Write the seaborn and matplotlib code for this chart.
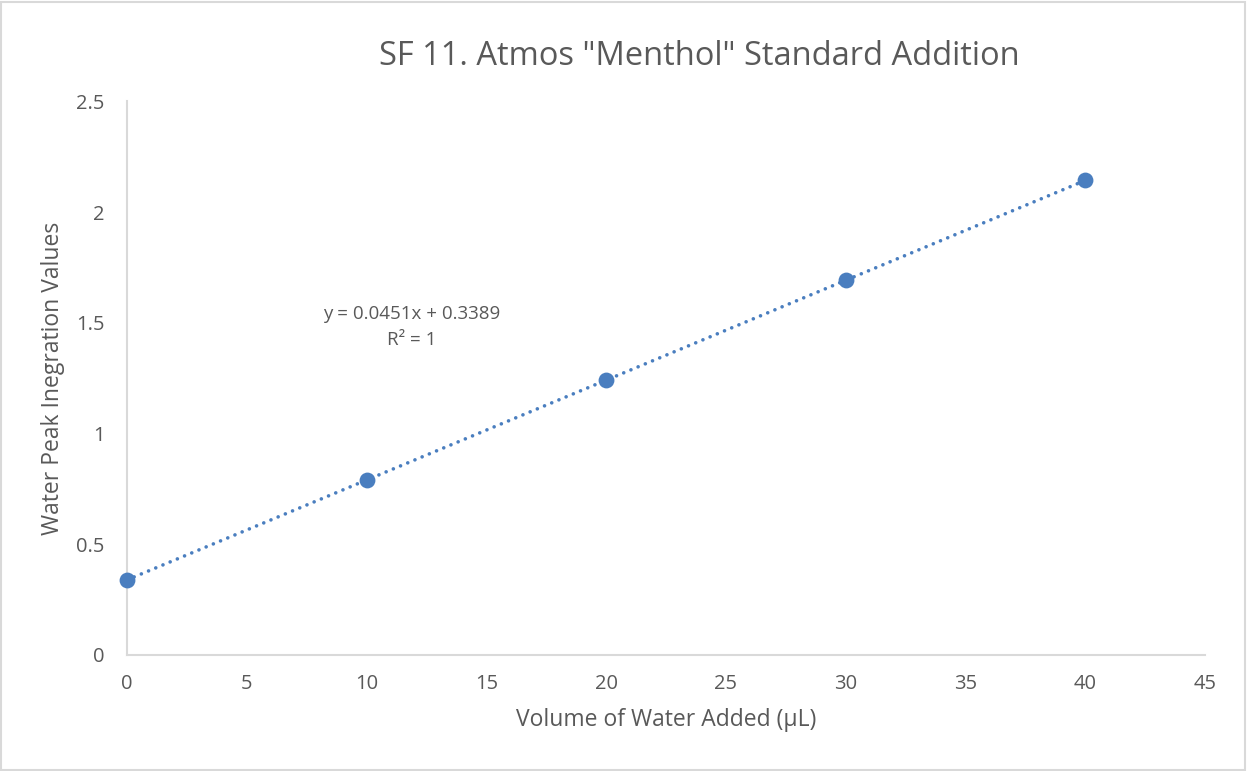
import numpy as np
import pandas as pd
import seaborn as sns
import matplotlib.pyplot as plt
from matplotlib.patches import Rectangle

# data
volume_added = [0, 10, 20, 30, 40]
peak_values = [0.3389, 0.7899, 1.2409, 1.6919, 2.1429]

df = pd.DataFrame({'volume': volume_added, 'peak': peak_values})

sns.set_theme(style='white')
plt.rcParams['font.family'] = ['Open Sans', 'DejaVu Sans']

blue = '#4A7EBF'
grey_text = '#595959'
axis_grey = '#D9D9D9'

fig = plt.figure(figsize=(12.47, 7.71), dpi=100)
ax = fig.add_axes([0.1018, 0.1505, 0.8645, 0.718])

# linear trendline (dotted)
slope, intercept = np.polyfit(df['volume'], df['peak'], 1)
fit_x = np.array([df['volume'].min(), df['volume'].max()])
ax.plot(fit_x, slope * fit_x + intercept, color=blue, lw=2.6,
        linestyle=(0, (0.01, 2.15)), dash_capstyle='round', zorder=2)

sns.scatterplot(data=df, x='volume', y='peak', ax=ax, color=blue, s=130,
                edgecolor=blue, linewidth=0, zorder=3, clip_on=False)

ax.set_xlim(0, 45)
ax.set_ylim(0, 2.5)
ax.set_xticks(range(0, 50, 5))
ax.set_yticks([0, 0.5, 1, 1.5, 2, 2.5])
ax.set_yticklabels(['0', '0.5', '1', '1.5', '2', '2.5'])
ax.tick_params(axis='both', length=0, labelsize=14.5, colors=grey_text)
ax.tick_params(axis='x', pad=14)
ax.tick_params(axis='y', pad=16)

for side in ['top', 'right']:
    ax.spines[side].set_visible(False)
for side in ['left', 'bottom']:
    ax.spines[side].set_color(axis_grey)
    ax.spines[side].set_linewidth(1.5)

ax.set_xlabel('Volume of Water Added (µL)', fontsize=16.5, color=grey_text, labelpad=10)
ax.set_ylabel('Water Peak Inegration Values', fontsize=16.5, color=grey_text, labelpad=8)

fig.text(0.5605, 0.927, 'SF 11. Atmos "Menthol" Standard Addition', fontsize=23.5,
         color=grey_text, ha='center', va='center')

ax.text(11.9, 1.48, 'y = 0.0451x + 0.3389\nR² = 1', fontsize=13.5, color=grey_text,
        ha='center', va='center', linespacing=1.55)

fig.patches.append(Rectangle((0.001, 0.001), 0.997, 0.997, transform=fig.transFigure,
                             fill=False, edgecolor=axis_grey, linewidth=1.5))

fig.savefig('out.png', dpi=100)
